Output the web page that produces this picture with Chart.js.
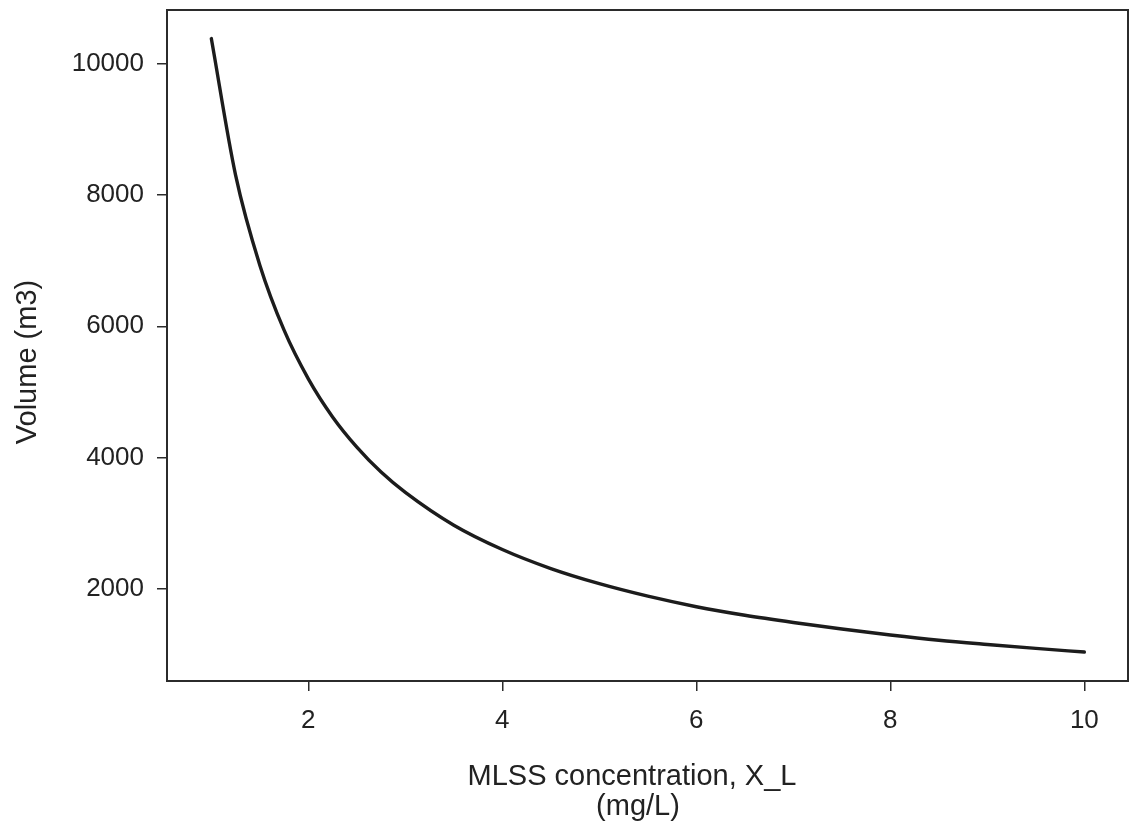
<!DOCTYPE html>
<html>
<head>
<meta charset="utf-8">
<script src="https://cdn.jsdelivr.net/npm/chart.js@4.4.1/dist/chart.umd.min.js"></script>
<style>
  html, body { margin: 0; padding: 0; background: #ffffff; }
  #c { display: block; }
</style>
</head>
<body>
<canvas id="c" width="1133" height="836"></canvas>
<script>
// ---- data ----
const concentration = [1, 1.25, 1.5, 1.75, 2, 2.25, 2.5, 2.75, 3, 3.5, 4, 4.5, 5, 5.5, 6, 6.5, 7, 7.5, 8, 8.5, 9, 9.5, 10];
const volume = [10380, 8300, 6930, 5940, 5200, 4620, 4160, 3780, 3470, 2970, 2600, 2310, 2080, 1890, 1730, 1600, 1490, 1390, 1300, 1220, 1155, 1095, 1040];
const xTickValues = [2, 4, 6, 8, 10];
const yTickValues = [2000, 4000, 6000, 8000, 10000];
const xTitleLines = ["MLSS concentration, X_L", "(mg/L)"];
const yTitle = "Volume (m3)";

const FONT = "'Liberation Sans', Arial, Helvetica, sans-serif";
const INK = "#222222";
const AXIS = "#2b2b2b";

const points = concentration.map((x, i) => ({ x: x, y: volume[i] }));

const boxAndTitles = {
  id: 'boxAndTitles',
  afterDraw(chart) {
    const { ctx, chartArea: a } = chart;
    ctx.save();
    ctx.strokeStyle = AXIS;
    ctx.lineWidth = 2;
    ctx.strokeRect(a.left, a.top, a.right - a.left, a.bottom - a.top);
    // x axis title (two lines)
    ctx.fillStyle = INK;
    ctx.font = "29px " + FONT;
    ctx.textAlign = 'center';
    ctx.textBaseline = 'alphabetic';
    ctx.fillText(xTitleLines[0], 632, 785);
    ctx.fillText(xTitleLines[1], 638, 815);
    // y axis title
    ctx.translate(28, 362);
    ctx.rotate(-Math.PI / 2);
    ctx.textBaseline = 'middle';
    ctx.fillText(yTitle, 0, 0);
    ctx.restore();
  }
};

new Chart(document.getElementById('c'), {
  type: 'line',
  data: {
    datasets: [{
      data: points,
      borderColor: '#1c1c1c',
      borderWidth: 3.4,
      pointRadius: 0,
      fill: false,
      cubicInterpolationMode: 'monotone',
      borderCapStyle: 'round'
    }]
  },
  options: {
    responsive: false,
    animation: false,
    layout: { padding: { top: 10, right: 5, left: 0, bottom: 0 } },
    plugins: { legend: { display: false }, tooltip: { enabled: false } },
    scales: {
      x: {
        type: 'linear',
        min: 0.543,
        max: 10.45,
        afterBuildTicks: (s) => { s.ticks = xTickValues.map(v => ({ value: v })); },
        afterFit: (s) => { s.height = 155; s.paddingLeft = 0; s.paddingRight = 0; },
        grid: { drawOnChartArea: false, drawTicks: true, tickLength: 10, color: AXIS, lineWidth: 1.5 },
        border: { display: true, color: AXIS, width: 2 },
        ticks: { color: INK, font: { family: FONT, size: 26 }, padding: 14, maxRotation: 0 }
      },
      y: {
        type: 'linear',
        min: 599,
        max: 10815,
        afterBuildTicks: (s) => { s.ticks = yTickValues.map(v => ({ value: v })); },
        afterFit: (s) => { s.width = 167; s.paddingTop = 0; s.paddingBottom = 0; },
        grid: { drawOnChartArea: false, drawTicks: true, tickLength: 10, color: AXIS, lineWidth: 1.5 },
        border: { display: true, color: AXIS, width: 2 },
        ticks: { color: INK, font: { family: FONT, size: 26 }, padding: 13, callback: (v) => String(v) }
      }
    }
  },
  plugins: [boxAndTitles]
});
</script>
</body>
</html>
